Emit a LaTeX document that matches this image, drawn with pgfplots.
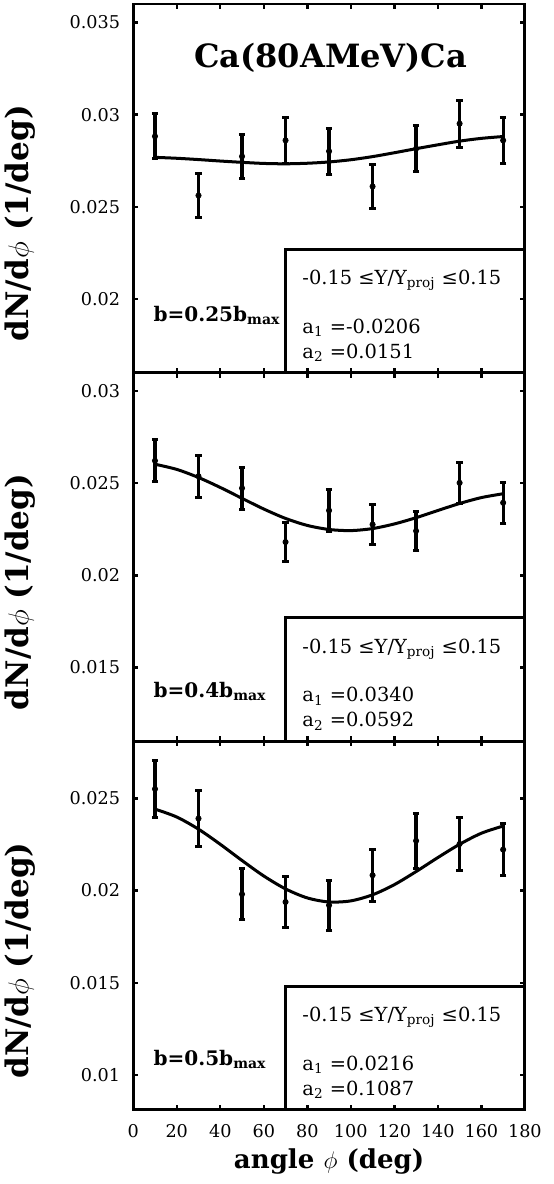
\documentclass[border=0pt]{standalone}
\usepackage{fontspec}
\setmainfont{DejaVu Serif}
\usepackage{pgfplots}
\pgfplotsset{compat=1.18}

\pgfplotsset{
  panel/.style={
    scale only axis, width=195.5pt, height=184pt,
    xmin=0, xmax=180, xtick={0,20,...,180}, xticklabels={},
    scaled y ticks=false,
    axis line style={line width=1.4pt},
    tick style={line width=1.2pt, black},
    major tick length=2.5pt, tick align=inside,
    clip=false,
    yticklabel style={font=\fontsize{8.8}{10}\selectfont, xshift=-3pt},
    xticklabel style={font=\fontsize{8.8}{10}\selectfont, yshift=-3.5pt},
    ylabel={\bfseries dN/d$\phi$ (1/deg)},
    ylabel style={font=\fontsize{15.5}{18}\selectfont,
      at={(axis description cs:-0.289,0.405)}, anchor=center},
  },
  data/.style={black, only marks, mark=*, mark size=1.3pt,
    error bars/.cd, y dir=both, y explicit,
    error bar style={line width=1.6pt},
    error mark options={rotate=90, mark size=1.6pt, line width=1.5pt}},
  fit/.style={black, line width=1.5pt, smooth, no markers},
}

\begin{document}
\begin{tikzpicture}

% panel 1: b = 0.25 bmax
\begin{axis}[panel, name=p1, ymin=0.016, ymax=0.036,
  ytick={0.02,0.025,0.03,0.035}, yticklabels={0.02,0.025,0.03,0.035}]
\addplot[data] table[x=x, y=y, y error=e] {
x   y       e
10  0.02882 0.00122
30  0.02561 0.00120
50  0.02773 0.00121
70  0.02860 0.00124
90  0.02801 0.00124
110 0.02610 0.00120
130 0.02815 0.00124
150 0.02951 0.00127
170 0.02860 0.00124
};
\addplot[fit] coordinates {
(10,0.02768) (20,0.02763) (30,0.02756) (40,0.02748) (50,0.02741)
(60,0.02735) (70,0.02733) (80,0.02736) (90,0.02743) (100,0.02755)
(110,0.02772) (120,0.02793) (130,0.02815) (140,0.02836) (150,0.02856)
(160,0.02871) (170,0.02881)
};
\draw[line width=1.4pt] (rel axis cs:0.389,0) rectangle (rel axis cs:1,0.335);
\node[anchor=base west, font=\fontsize{9.7}{11}\selectfont, inner sep=0pt]
  at (rel axis cs:0.431,0.239) {-0.15 ≤Y/Y\textsubscript{proj} ≤0.15};
\node[anchor=base west, font=\fontsize{9.7}{11}\selectfont, inner sep=0pt]
  at (rel axis cs:0.431,0.107) {a\textsubscript{1} =-0.0206};
\node[anchor=base west, font=\fontsize{9.7}{11}\selectfont, inner sep=0pt]
  at (rel axis cs:0.431,0.039) {a\textsubscript{2} =0.0151};
\node[anchor=base west, font=\bfseries\fontsize{10}{12}\selectfont, inner sep=0pt]
  at (rel axis cs:0.051,0.14) {b=0.25b\textsubscript{max}};
\node[anchor=base, font=\bfseries\fontsize{16}{19}\selectfont, inner sep=0pt]
  at (rel axis cs:0.504,0.829) {Ca(80AMeV)Ca};
\end{axis}

% panel 2: b = 0.4 bmax
\begin{axis}[panel, name=p2, at={(p1.south west)}, anchor=north west,
  ymin=0.011, ymax=0.031,
  ytick={0.015,0.02,0.025,0.03}, yticklabels={0.015,0.02,0.025,0.03}]
\addplot[data] table[x=x, y=y, y error=e] {
x   y       e
10  0.02622 0.00115
30  0.02538 0.00114
50  0.02473 0.00113
70  0.02181 0.00106
90  0.02352 0.00113
110 0.02276 0.00110
130 0.02241 0.00108
150 0.02502 0.00111
170 0.02394 0.00111
};
\addplot[fit] coordinates {
(10,0.02603) (20,0.02575) (30,0.02531) (40,0.02477) (50,0.02418)
(60,0.02360) (70,0.02309) (80,0.02271) (90,0.02249) (100,0.02243)
(110,0.02254) (120,0.02279) (130,0.02313) (140,0.02352) (150,0.02390)
(160,0.02422) (170,0.02443)
};
\draw[line width=1.4pt] (rel axis cs:0.389,0) rectangle (rel axis cs:1,0.335);
\node[anchor=base west, font=\fontsize{9.7}{11}\selectfont, inner sep=0pt]
  at (rel axis cs:0.431,0.239) {-0.15 ≤Y/Y\textsubscript{proj} ≤0.15};
\node[anchor=base west, font=\fontsize{9.7}{11}\selectfont, inner sep=0pt]
  at (rel axis cs:0.431,0.107) {a\textsubscript{1} =0.0340};
\node[anchor=base west, font=\fontsize{9.7}{11}\selectfont, inner sep=0pt]
  at (rel axis cs:0.431,0.039) {a\textsubscript{2} =0.0592};
\node[anchor=base west, font=\bfseries\fontsize{10}{12}\selectfont, inner sep=0pt]
  at (rel axis cs:0.051,0.12) {b=0.4b\textsubscript{max}};
\end{axis}

% panel 3: b = 0.5 bmax
\begin{axis}[panel, name=p3, at={(p2.south west)}, anchor=north west,
  ymin=0.0081, ymax=0.0281,
  ytick={0.01,0.015,0.02,0.025}, yticklabels={0.01,0.015,0.02,0.025},
  xticklabels={0,20,40,60,80,100,120,140,160,180},
  xlabel={\bfseries angle $\phi$ (deg)},
  xlabel style={font=\fontsize{13}{15}\selectfont,
    at={(axis description cs:0.5,-0.141)}, anchor=center}]
\addplot[data] table[x=x, y=y, y error=e] {
x   y       e
10  0.02551 0.00154
30  0.02391 0.00150
50  0.01980 0.00139
70  0.01938 0.00136
90  0.01920 0.00136
110 0.02083 0.00140
130 0.02270 0.00148
150 0.02253 0.00143
170 0.02222 0.00142
};
\addplot[fit] coordinates {
(10,0.02442) (20,0.02399) (30,0.02333) (40,0.02251) (50,0.02163)
(60,0.02079) (70,0.02009) (80,0.01960) (90,0.01938) (100,0.01944)
(110,0.01977) (120,0.02032) (130,0.02103) (140,0.02179) (150,0.02251)
(160,0.02311) (170,0.02350)
};
\draw[line width=1.4pt] (rel axis cs:0.389,0) rectangle (rel axis cs:1,0.335);
\node[anchor=base west, font=\fontsize{9.7}{11}\selectfont, inner sep=0pt]
  at (rel axis cs:0.431,0.239) {-0.15 ≤Y/Y\textsubscript{proj} ≤0.15};
\node[anchor=base west, font=\fontsize{9.7}{11}\selectfont, inner sep=0pt]
  at (rel axis cs:0.431,0.107) {a\textsubscript{1} =0.0216};
\node[anchor=base west, font=\fontsize{9.7}{11}\selectfont, inner sep=0pt]
  at (rel axis cs:0.431,0.039) {a\textsubscript{2} =0.1087};
\node[anchor=base west, font=\bfseries\fontsize{10}{12}\selectfont, inner sep=0pt]
  at (rel axis cs:0.051,0.12) {b=0.5b\textsubscript{max}};
\end{axis}

\pgfresetboundingbox
\path[use as bounding box] ([xshift=-66.5pt,yshift=2pt]p1.north west)
  rectangle ([xshift=14.5pt,yshift=-37pt]p3.south east);
\end{tikzpicture}
\end{document}
